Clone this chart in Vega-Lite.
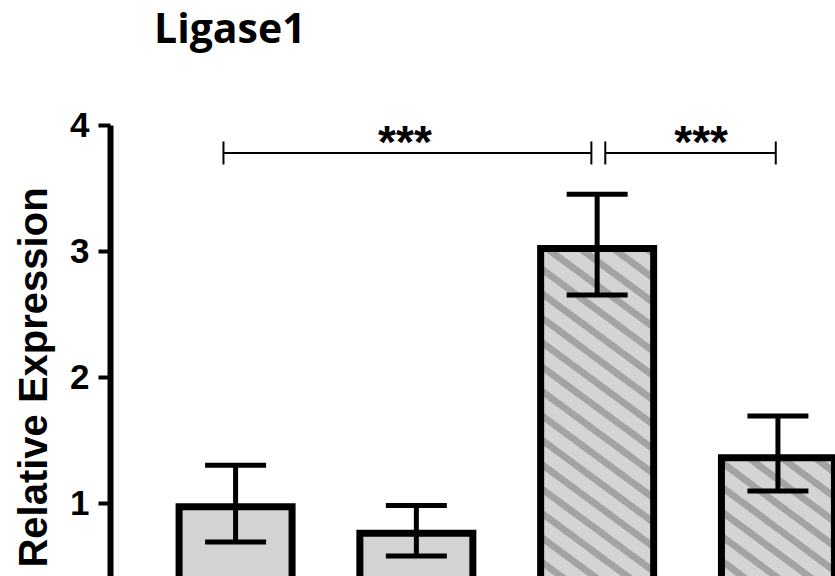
{
  "$schema": "https://vega.github.io/schema/vega-lite/v6.json",
  "autosize": {"type": "none"},
  "padding": {"left": 110, "top": 125, "right": 0, "bottom": 0},
  "width": 725,
  "height": 504,
  "background": "white",
  "config": {"view": {"stroke": null}},
  "title": {
    "text": "Ligase1",
    "anchor": "start",
    "frame": "group",
    "dx": 44,
    "offset": 24,
    "baseline": "alphabetic",
    "font": "Open Sans",
    "fontWeight": 700,
    "fontSize": 41,
    "color": "#000000"
  },
  "datasets": {
    "bars": [
      {"group": "G1", "pos": 1, "type": "control", "mean": 0.97, "low": 0.69, "high": 1.30},
      {"group": "G2", "pos": 2, "type": "control", "mean": 0.76, "low": 0.58, "high": 0.98},
      {"group": "G3", "pos": 3, "type": "treated", "mean": 3.02, "low": 2.65, "high": 3.45},
      {"group": "G4", "pos": 4, "type": "treated", "mean": 1.36, "low": 1.095, "high": 1.69}
    ],
    "brackets": [
      {"start": 0.933, "end": 2.968, "mid": 1.937, "y": 3.778, "label": "***"},
      {"start": 3.045, "end": 3.988, "mid": 3.575, "y": 3.778, "label": "***"}
    ]
  },
  "layer": [
    {
      "data": {"name": "bars"},
      "mark": {"type": "bar", "width": 113, "stroke": "#000000", "strokeWidth": 7, "strokeJoin": "miter"},
      "encoding": {
        "x": {"field": "pos", "type": "quantitative", "scale": {"domain": [0.333, 4.288], "nice": false, "zero": false}, "axis": null},
        "y": {"field": "mean", "type": "quantitative", "scale": {"domain": [0, 4], "nice": false},
          "axis": {
            "title": "Relative Expression",
            "values": [0, 1, 2, 3, 4],
            "format": "d",
            "grid": false,
            "domainColor": "#000000", "domainWidth": 6,
            "tickColor": "#000000", "tickWidth": 4, "tickSize": 12,
            "labelFont": "Liberation Sans", "labelFontWeight": "bold", "labelFontSize": 35, "labelColor": "#000000", "labelPadding": 9,
            "titleFont": "Liberation Sans", "titleFontWeight": "bold", "titleFontSize": 40, "titleColor": "#000000", "titlePadding": 15
          }
        },
        "fill": {
          "condition": [
            {"test": "datum.group === 'G3'", "value": {
              "gradient": "linear", "x1": 0, "y1": 1, "x2": 0.255, "y2": -0.1634,
              "stops": [
                {"offset": 0, "color": "#d4d4d4"},
                {"offset": 0.0305, "color": "#d4d4d4"}, {"offset": 0.0326, "color": "#a3a3a3"}, {"offset": 0.0490, "color": "#a3a3a3"}, {"offset": 0.0511, "color": "#d4d4d4"},
                {"offset": 0.0832, "color": "#d4d4d4"}, {"offset": 0.0853, "color": "#a3a3a3"}, {"offset": 0.1016, "color": "#a3a3a3"}, {"offset": 0.1037, "color": "#d4d4d4"},
                {"offset": 0.1358, "color": "#d4d4d4"}, {"offset": 0.1379, "color": "#a3a3a3"}, {"offset": 0.1542, "color": "#a3a3a3"}, {"offset": 0.1563, "color": "#d4d4d4"},
                {"offset": 0.1884, "color": "#d4d4d4"}, {"offset": 0.1905, "color": "#a3a3a3"}, {"offset": 0.2068, "color": "#a3a3a3"}, {"offset": 0.2089, "color": "#d4d4d4"},
                {"offset": 0.2411, "color": "#d4d4d4"}, {"offset": 0.2432, "color": "#a3a3a3"}, {"offset": 0.2595, "color": "#a3a3a3"}, {"offset": 0.2616, "color": "#d4d4d4"},
                {"offset": 0.2937, "color": "#d4d4d4"}, {"offset": 0.2958, "color": "#a3a3a3"}, {"offset": 0.3121, "color": "#a3a3a3"}, {"offset": 0.3142, "color": "#d4d4d4"},
                {"offset": 0.3463, "color": "#d4d4d4"}, {"offset": 0.3484, "color": "#a3a3a3"}, {"offset": 0.3647, "color": "#a3a3a3"}, {"offset": 0.3668, "color": "#d4d4d4"},
                {"offset": 0.3990, "color": "#d4d4d4"}, {"offset": 0.4011, "color": "#a3a3a3"}, {"offset": 0.4174, "color": "#a3a3a3"}, {"offset": 0.4195, "color": "#d4d4d4"},
                {"offset": 0.4516, "color": "#d4d4d4"}, {"offset": 0.4537, "color": "#a3a3a3"}, {"offset": 0.4700, "color": "#a3a3a3"}, {"offset": 0.4721, "color": "#d4d4d4"},
                {"offset": 0.5042, "color": "#d4d4d4"}, {"offset": 0.5063, "color": "#a3a3a3"}, {"offset": 0.5226, "color": "#a3a3a3"}, {"offset": 0.5247, "color": "#d4d4d4"},
                {"offset": 0.5569, "color": "#d4d4d4"}, {"offset": 0.5590, "color": "#a3a3a3"}, {"offset": 0.5753, "color": "#a3a3a3"}, {"offset": 0.5774, "color": "#d4d4d4"},
                {"offset": 0.6095, "color": "#d4d4d4"}, {"offset": 0.6116, "color": "#a3a3a3"}, {"offset": 0.6279, "color": "#a3a3a3"}, {"offset": 0.6300, "color": "#d4d4d4"},
                {"offset": 0.6621, "color": "#d4d4d4"}, {"offset": 0.6642, "color": "#a3a3a3"}, {"offset": 0.6805, "color": "#a3a3a3"}, {"offset": 0.6826, "color": "#d4d4d4"},
                {"offset": 0.7147, "color": "#d4d4d4"}, {"offset": 0.7168, "color": "#a3a3a3"}, {"offset": 0.7332, "color": "#a3a3a3"}, {"offset": 0.7353, "color": "#d4d4d4"},
                {"offset": 0.7674, "color": "#d4d4d4"}, {"offset": 0.7695, "color": "#a3a3a3"}, {"offset": 0.7858, "color": "#a3a3a3"}, {"offset": 0.7879, "color": "#d4d4d4"},
                {"offset": 0.8200, "color": "#d4d4d4"}, {"offset": 0.8221, "color": "#a3a3a3"}, {"offset": 0.8384, "color": "#a3a3a3"}, {"offset": 0.8405, "color": "#d4d4d4"},
                {"offset": 0.8726, "color": "#d4d4d4"}, {"offset": 0.8747, "color": "#a3a3a3"}, {"offset": 0.8911, "color": "#a3a3a3"}, {"offset": 0.8932, "color": "#d4d4d4"},
                {"offset": 0.9253, "color": "#d4d4d4"}, {"offset": 0.9274, "color": "#a3a3a3"}, {"offset": 0.9437, "color": "#a3a3a3"}, {"offset": 0.9458, "color": "#d4d4d4"},
                {"offset": 0.9779, "color": "#d4d4d4"}, {"offset": 0.9800, "color": "#a3a3a3"}, {"offset": 0.9963, "color": "#a3a3a3"}, {"offset": 0.9984, "color": "#d4d4d4"}
              ]
            }},
            {"test": "datum.group === 'G4'", "value": {
              "gradient": "linear", "x1": 0, "y1": 1, "x2": 0.5889, "y2": -0.2015,
              "stops": [
                {"offset": 0, "color": "#d4d4d4"},
                {"offset": 0.0559, "color": "#d4d4d4"}, {"offset": 0.0598, "color": "#a3a3a3"}, {"offset": 0.0897, "color": "#a3a3a3"}, {"offset": 0.0935, "color": "#d4d4d4"},
                {"offset": 0.1524, "color": "#d4d4d4"}, {"offset": 0.1562, "color": "#a3a3a3"}, {"offset": 0.1861, "color": "#a3a3a3"}, {"offset": 0.1900, "color": "#d4d4d4"},
                {"offset": 0.2488, "color": "#d4d4d4"}, {"offset": 0.2526, "color": "#a3a3a3"}, {"offset": 0.2825, "color": "#a3a3a3"}, {"offset": 0.2864, "color": "#d4d4d4"},
                {"offset": 0.3452, "color": "#d4d4d4"}, {"offset": 0.3491, "color": "#a3a3a3"}, {"offset": 0.3790, "color": "#a3a3a3"}, {"offset": 0.3828, "color": "#d4d4d4"},
                {"offset": 0.4417, "color": "#d4d4d4"}, {"offset": 0.4455, "color": "#a3a3a3"}, {"offset": 0.4754, "color": "#a3a3a3"}, {"offset": 0.4793, "color": "#d4d4d4"},
                {"offset": 0.5381, "color": "#d4d4d4"}, {"offset": 0.5419, "color": "#a3a3a3"}, {"offset": 0.5718, "color": "#a3a3a3"}, {"offset": 0.5757, "color": "#d4d4d4"},
                {"offset": 0.6345, "color": "#d4d4d4"}, {"offset": 0.6384, "color": "#a3a3a3"}, {"offset": 0.6683, "color": "#a3a3a3"}, {"offset": 0.6721, "color": "#d4d4d4"},
                {"offset": 0.7309, "color": "#d4d4d4"}, {"offset": 0.7348, "color": "#a3a3a3"}, {"offset": 0.7647, "color": "#a3a3a3"}, {"offset": 0.7685, "color": "#d4d4d4"},
                {"offset": 0.8274, "color": "#d4d4d4"}, {"offset": 0.8312, "color": "#a3a3a3"}, {"offset": 0.8611, "color": "#a3a3a3"}, {"offset": 0.8650, "color": "#d4d4d4"},
                {"offset": 0.9238, "color": "#d4d4d4"}, {"offset": 0.9277, "color": "#a3a3a3"}, {"offset": 0.9576, "color": "#a3a3a3"}, {"offset": 0.9614, "color": "#d4d4d4"},
                {"offset": 1, "color": "#d4d4d4"}
              ]
            }}
          ],
          "value": "#d3d3d3"
        }
      }
    },
    {
      "data": {"name": "bars"},
      "mark": {"type": "rule", "color": "#000000", "strokeWidth": 5},
      "encoding": {
        "x": {"field": "pos", "type": "quantitative"},
        "y": {"field": "low", "type": "quantitative"},
        "y2": {"field": "high"}
      }
    },
    {
      "data": {"name": "bars"},
      "mark": {"type": "tick", "orient": "horizontal", "color": "#000000", "size": 61, "thickness": 5, "opacity": 1},
      "encoding": {
        "x": {"field": "pos", "type": "quantitative"},
        "y": {"field": "high", "type": "quantitative"}
      }
    },
    {
      "data": {"name": "bars"},
      "mark": {"type": "tick", "orient": "horizontal", "color": "#000000", "size": 61, "thickness": 5, "opacity": 1},
      "encoding": {
        "x": {"field": "pos", "type": "quantitative"},
        "y": {"field": "low", "type": "quantitative"}
      }
    },
    {
      "data": {"name": "brackets"},
      "mark": {"type": "rule", "color": "#000000", "strokeWidth": 2},
      "encoding": {
        "x": {"field": "start", "type": "quantitative"},
        "x2": {"field": "end"},
        "y": {"field": "y", "type": "quantitative"}
      }
    },
    {
      "data": {"name": "brackets"},
      "mark": {"type": "rule", "color": "#000000", "strokeWidth": 2, "yOffset": -11.5, "y2Offset": 11.5},
      "encoding": {
        "x": {"field": "start", "type": "quantitative"},
        "y": {"field": "y", "type": "quantitative"},
        "y2": {"field": "y"}
      }
    },
    {
      "data": {"name": "brackets"},
      "mark": {"type": "rule", "color": "#000000", "strokeWidth": 2, "yOffset": -11.5, "y2Offset": 11.5},
      "encoding": {
        "x": {"field": "end", "type": "quantitative"},
        "y": {"field": "y", "type": "quantitative"},
        "y2": {"field": "y"}
      }
    },
    {
      "data": {"name": "brackets"},
      "mark": {"type": "text", "font": "Liberation Sans", "fontWeight": "bold", "fontSize": 46, "color": "#000000", "align": "center", "baseline": "alphabetic", "dy": 5},
      "encoding": {
        "x": {"field": "mid", "type": "quantitative"},
        "y": {"field": "y", "type": "quantitative"},
        "text": {"field": "label"}
      }
    }
  ]
}
